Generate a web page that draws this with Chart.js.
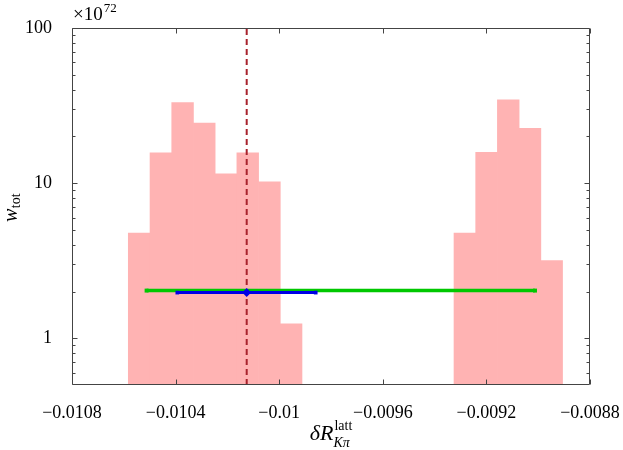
<!DOCTYPE html>
<html><head><meta charset="utf-8">
<script src="https://cdn.jsdelivr.net/npm/chart.js@4/dist/chart.umd.min.js"></script>
<style>html,body{margin:0;padding:0;background:#fff}#wrap{width:623px;height:450px}</style>
</head><body><div id="wrap"><canvas id="c" width="623" height="450"></canvas></div>
<script>
// ---- data ----
const xMin = -0.0108, xMax = -0.0088;
const yMin = 0.5, yMax = 100;
const xTickValues = [-0.0108, -0.0104, -0.0100, -0.0096, -0.0092, -0.0088];
const xTickLabels = ['\u22120.0108', '\u22120.0104', '\u22120.01', '\u22120.0096', '\u22120.0092', '\u22120.0088'];
const yTickValues = [1, 10, 100];
const yTickLabels = ['1', '10', '100'];
const yMinorTicks = [0.6, 0.7, 0.8, 0.9, 2, 3, 4, 5, 6, 7, 8, 9, 20, 30, 40, 50, 60, 70, 80, 90];
const binCentersLeft = [-0.0105407, -0.0104568, -0.0103730, -0.0102892, -0.0102054, -0.0101215, -0.0100377, -0.0099539];
const binHeightsLeft = [4.76, 15.7, 33.1, 24.4, 11.5, 15.7, 10.2, 1.24];
const binCentersRight = [-0.0092832, -0.0091994, -0.0091156, -0.0090317, -0.0089479];
const binHeightsRight = [4.76, 15.8, 34.5, 22.6, 3.17];
const centralValue = -0.0101255;
const innerInterval = [-0.0103934, -0.0098590]; // blue
const innerY = 1.97;
const outerInterval = [-0.0105120, -0.0090124]; // green
const outerY = 2.03;
const scaleExponent = '72';

const serif = '"Liberation Serif", "DejaVu Serif", serif';

const barData = binCentersLeft.map((x, i) => ({x, y: binHeightsLeft[i]}))
  .concat(binCentersRight.map((x, i) => ({x, y: binHeightsRight[i]})));

const decor = {
  id: 'decor',
  afterDraw(chart) {
    const ctx = chart.ctx, a = chart.chartArea;
    const xs = chart.scales.x, ys = chart.scales.y;
    ctx.save();
    ctx.strokeStyle = '#444';
    ctx.lineWidth = 1;
    const L = Math.round(a.left) + 0.5, R = Math.round(a.right) - 0.5;
    const T = Math.round(a.top) + 0.5, B = Math.round(a.bottom) - 0.5;
    ctx.beginPath();
    ctx.rect(L, T, R - L, B - T);
    ctx.stroke();
    ctx.beginPath();
    xTickValues.forEach(v => {
      const px = Math.round(xs.getPixelForValue(v)) + 0.5;
      ctx.moveTo(px, B); ctx.lineTo(px, B - 5);
      ctx.moveTo(px, T); ctx.lineTo(px, T + 5);
    });
    yTickValues.forEach(v => {
      const py = Math.round(ys.getPixelForValue(v)) + 0.5;
      ctx.moveTo(L, py); ctx.lineTo(L + 5, py);
      ctx.moveTo(R, py); ctx.lineTo(R - 5, py);
    });
    yMinorTicks.forEach(v => {
      const py = Math.round(ys.getPixelForValue(v)) + 0.5;
      ctx.moveTo(L, py); ctx.lineTo(L + 3, py);
      ctx.moveTo(R, py); ctx.lineTo(R - 3, py);
    });
    ctx.stroke();

    ctx.fillStyle = '#000';
    ctx.textBaseline = 'alphabetic';
    ctx.textAlign = 'left';
    // multiplier
    ctx.font = '19px ' + serif;
    ctx.fillText('\u00d710', a.left + 1, 20);
    const w10 = ctx.measureText('\u00d710').width;
    ctx.font = '13px ' + serif;
    ctx.fillText(scaleExponent, a.left + 1 + w10 + 1, 12);

    // y title  w_tot
    ctx.save();
    ctx.translate(17, 222);
    ctx.rotate(-Math.PI / 2);
    ctx.font = 'italic 20px ' + serif;
    ctx.fillText('w', 0, 0);
    const ww = ctx.measureText('w').width;
    ctx.font = '14px ' + serif;
    ctx.fillText('tot', ww + 0.5, 3);
    ctx.restore();

    // x title  δR^latt_Kπ
    const cx = (a.left + a.right) / 2;
    ctx.font = 'italic 22px ' + serif;
    const wd = ctx.measureText('\u03b4R').width;
    ctx.font = '14px ' + serif;
    const wl = ctx.measureText('latt').width;
    let x0 = cx - (wd + wl + 1) / 2;
    ctx.font = 'italic 22px ' + serif;
    ctx.fillText('\u03b4R', x0, 440);
    ctx.font = '14px ' + serif;
    ctx.fillText('latt', x0 + wd + 1, 430);
    ctx.font = 'italic 14px ' + serif;
    ctx.fillText('K\u03c0', x0 + wd, 447);
    ctx.restore();
  }
};

new Chart(document.getElementById('c'), {
  type: 'bar',
  data: {
    datasets: [
      {
        type: 'bar', data: barData, base: yMin,
        backgroundColor: '#ffb3b3', borderWidth: 0,
        barPercentage: 1.0, categoryPercentage: 1.0, order: 5
      },
      {
        type: 'line', data: [{x: centralValue, y: yMin}, {x: centralValue, y: yMax}],
        borderColor: '#a8222c', borderWidth: 2, borderDash: [6, 4], pointRadius: 0, order: 4
      },
      {
        type: 'line', data: [{x: outerInterval[0], y: outerY}, {x: outerInterval[1], y: outerY}],
        borderColor: '#00c800', backgroundColor: '#00c800', borderWidth: 3.5,
        pointStyle: 'rect', pointRadius: 2.8, pointBorderWidth: 0, order: 3
      },
      {
        type: 'line', data: [{x: innerInterval[0], y: innerY}, {x: innerInterval[1], y: innerY}],
        borderColor: '#0000e6', backgroundColor: '#0000e6', borderWidth: 3,
        pointStyle: 'rect', pointRadius: 2.6, pointBorderWidth: 0, order: 2
      },
      {
        type: 'line', data: [{x: centralValue, y: innerY}], showLine: false,
        borderColor: '#0000e6', backgroundColor: '#0000e6',
        pointStyle: 'rectRot', pointRadius: 4.5, pointBorderWidth: 0, order: 1
      }
    ]
  },
  options: {
    responsive: false, animation: false, devicePixelRatio: 1,
    layout: {padding: {top: 28, right: 33, left: 0, bottom: 0}},
    plugins: {legend: {display: false}, tooltip: {enabled: false}},
    scales: {
      x: {
        type: 'linear', min: xMin, max: xMax, offset: false,
        grid: {display: false}, border: {display: false},
        afterBuildTicks: s => { s.ticks = xTickValues.map(v => ({value: v})); },
        afterFit: s => { s.height = 65; s.paddingLeft = 0; s.paddingRight = 0; },
        ticks: {
          autoSkip: false, maxRotation: 0, padding: 9, color: '#000',
          font: {family: serif, size: 18},
          callback: (v, i) => xTickLabels[i]
        }
      },
      y: {
        type: 'logarithmic', min: yMin, max: yMax,
        grid: {display: false}, border: {display: false},
        afterBuildTicks: s => { s.ticks = yTickValues.map(v => ({value: v, major: true})); },
        afterFit: s => { s.width = 72; s.paddingTop = 0; s.paddingBottom = 0; },
        ticks: {
          autoSkip: false, padding: 12, color: '#000',
          font: {family: serif, size: 18},
          callback: (v, i) => yTickLabels[i]
        }
      }
    }
  },
  plugins: [decor]
});
</script>
</body></html>
